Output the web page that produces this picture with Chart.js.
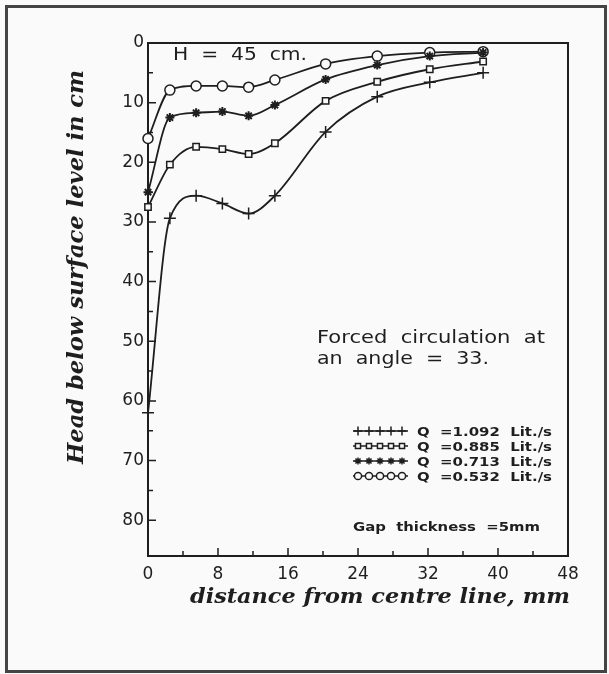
<!DOCTYPE html>
<html>
<head>
<meta charset="utf-8">
<script src="https://cdn.jsdelivr.net/npm/chart.js@4.4.1/dist/chart.umd.min.js"></script>
<style>
  html, body { margin: 0; padding: 0; background: #fafafa; }
  canvas { display: block; }
</style>
</head>
<body>
<canvas id="chart" width="609" height="674"></canvas>
<script>
// distance from centre line (mm), same stations for every run
const distance = [0, 2.5, 5.5, 8.5, 11.5, 14.5, 20.3, 26.2, 32.2, 38.3];

// head below surface level (cm)
const headQ1092 = [62, 29.4, 25.6, 26.9, 28.6, 25.6, 14.9, 9.0, 6.6, 5.0];
const headQ0885 = [27.5, 20.4, 17.4, 17.8, 18.6, 16.8, 9.7, 6.5, 4.4, 3.1];
const headQ0713 = [25, 12.5, 11.7, 11.5, 12.2, 10.4, 6.1, 3.7, 2.2, 1.6];
const headQ0532 = [16, 7.9, 7.2, 7.2, 7.4, 6.2, 3.5, 2.2, 1.6, 1.45];

const seriesLabels = ['Q  =1.092  Lit./s', 'Q  =0.885  Lit./s', 'Q  =0.713  Lit./s', 'Q  =0.532  Lit./s'];

// labelled ticks; the axes also carry unlabelled ticks in between
const xTickLabels = [0, 8, 16, 24, 32, 40, 48];
const yTickLabels = [0, 10, 20, 30, 40, 50, 60, 70, 80];

const INK = '#1e1e1e';
const PAPER = '#fafafa';

function toPoints(ys) {
  return ys.map((y, i) => ({ x: distance[i], y: y }));
}

// draw text squeezed/stretched to a given width (scanned lettering is wide)
function fitText(ctx, text, x, y, width) {
  const w = ctx.measureText(text).width;
  ctx.save();
  ctx.translate(x, y);
  ctx.scale(width / w, 1);
  ctx.textAlign = 'left';
  ctx.fillText(text, 0, 0);
  ctx.restore();
}

const markerStyles = [
  { pointStyle: 'cross', radius: 6, borderWidth: 1.5 },
  { pointStyle: 'rect', radius: 4.5, borderWidth: 1.5 },
  { pointStyle: 'star', radius: 4.5, borderWidth: 2 },
  { pointStyle: 'circle', radius: 5, borderWidth: 1.5 },
];

const paperAndFrame = {
  id: 'paperAndFrame',
  beforeDraw(chart) {
    const ctx = chart.ctx;
    ctx.save();
    ctx.fillStyle = PAPER;
    ctx.fillRect(0, 0, chart.width, chart.height);
    ctx.strokeStyle = '#444';
    ctx.lineWidth = 3;
    ctx.strokeRect(6.5, 6.5, chart.width - 10, chart.height - 9);
    ctx.restore();
  },
  beforeDatasetsDraw(chart) {
    const ctx = chart.ctx;
    const a = chart.chartArea;
    const xs = chart.scales.x;
    const ys = chart.scales.y;
    ctx.save();
    ctx.strokeStyle = INK;
    ctx.lineWidth = 2;
    ctx.strokeRect(a.left, a.top, a.right - a.left, a.bottom - a.top);
    ctx.lineWidth = 1.5;
    ctx.beginPath();
    xs.ticks.forEach(t => {
      const px = xs.getPixelForValue(t.value);
      const len = xTickLabels.includes(t.value) ? 8 : 5;
      if (t.value === 0 || t.value === 48) return;
      ctx.moveTo(px, a.bottom);
      ctx.lineTo(px, a.bottom - len);
    });
    ys.ticks.forEach(t => {
      const py = ys.getPixelForValue(t.value);
      const len = yTickLabels.includes(t.value) ? 8 : 5;
      if (t.value === 0) return;
      ctx.moveTo(a.left, py);
      ctx.lineTo(a.left + len, py);
    });
    ctx.stroke();
    ctx.restore();
  },
  afterDraw(chart) {
    const ctx = chart.ctx;
    ctx.save();
    ctx.fillStyle = INK;
    ctx.textBaseline = 'alphabetic';

    // axis titles
    ctx.font = 'bold italic 21px "DejaVu Serif"';
    fitText(ctx, 'distance from centre line, mm', 190, 603, 380);
    ctx.save();
    ctx.translate(83, 464);
    ctx.rotate(-Math.PI / 2);
    ctx.font = 'bold italic 22px "DejaVu Serif"';
    fitText(ctx, 'Head below surface level in cm', 0, 0, 394);
    ctx.restore();

    // notes inside the plot
    ctx.font = '17px "DejaVu Sans"';
    fitText(ctx, 'H  =  45  cm.', 173, 60, 134);
    fitText(ctx, 'Forced  circulation  at', 317, 343, 228);
    fitText(ctx, 'an  angle  =  33.', 317, 364, 172);

    ctx.font = 'bold 13px "DejaVu Sans"';
    fitText(ctx, 'Gap  thickness  =5mm', 353, 531, 187);

    // legend: a short run of each marker, then the flow rate
    const rows = [431, 446, 461, 476];
    chart.data.datasets.forEach((ds, i) => {
      const y = rows[i];
      ctx.strokeStyle = INK;
      ctx.lineWidth = 1.5;
      ctx.beginPath();
      ctx.moveTo(353, y);
      ctx.lineTo(408, y);
      ctx.stroke();
      for (let k = 0; k < 5; k++) {
        ctx.fillStyle = i === 0 || i === 2 ? INK : PAPER;
        Chart.helpers.drawPoint(ctx, {
          pointStyle: markerStyles[i].pointStyle,
          radius: i === 0 ? 4.5 : 3.6,
          borderWidth: 1.5,
          rotation: 0,
        }, 358 + k * 11, y);
      }
      ctx.fillStyle = INK;
      ctx.font = 'bold 13px "DejaVu Sans"';
      fitText(ctx, seriesLabels[i], 417, y + 5, 135);
    });
    ctx.restore();
  },
};

function makeDataset(label, ys, i) {
  return {
    label: label,
    data: toPoints(ys),
    borderColor: INK,
    backgroundColor: i === 2 ? INK : PAPER,
    borderWidth: 1.8,
    cubicInterpolationMode: 'monotone',
    pointStyle: markerStyles[i].pointStyle,
    pointRadius: markerStyles[i].radius,
    pointBorderWidth: markerStyles[i].borderWidth,
    pointBorderColor: INK,
    pointBackgroundColor: i === 2 ? INK : PAPER,
    clip: false,
  };
}

const ctx = document.getElementById('chart').getContext('2d');
new Chart(ctx, {
  type: 'line',
  data: {
    datasets: [
      makeDataset(seriesLabels[0], headQ1092, 0),
      makeDataset(seriesLabels[1], headQ0885, 1),
      makeDataset(seriesLabels[2], headQ0713, 2),
      makeDataset(seriesLabels[3], headQ0532, 3),
    ],
  },
  options: {
    responsive: false,
    animation: false,
    layout: { padding: { left: 0, top: 43, right: 41, bottom: 0 } },
    plugins: {
      legend: { display: false },
      tooltip: { enabled: false },
    },
    scales: {
      x: {
        type: 'linear',
        min: 0,
        max: 48,
        afterFit(scale) { scale.height = 118; },
        grid: { display: false, drawTicks: false },
        border: { display: false },
        ticks: {
          stepSize: 4,
          autoSkip: false,
          maxRotation: 0,
          padding: 8,
          color: INK,
          font: { family: 'DejaVu Sans', size: 17 },
          callback: v => (xTickLabels.includes(v) ? String(v) : ''),
        },
      },
      y: {
        type: 'linear',
        reverse: true,
        min: 0,
        max: 86,
        afterFit(scale) { scale.width = 148; },
        grid: { display: false, drawTicks: false },
        border: { display: false },
        ticks: {
          stepSize: 5,
          autoSkip: false,
          padding: 4,
          color: INK,
          font: { family: 'DejaVu Sans', size: 17 },
          callback: v => (yTickLabels.includes(v) ? String(v) : ''),
        },
      },
    },
  },
  plugins: [paperAndFrame],
});
</script>
</body>
</html>
